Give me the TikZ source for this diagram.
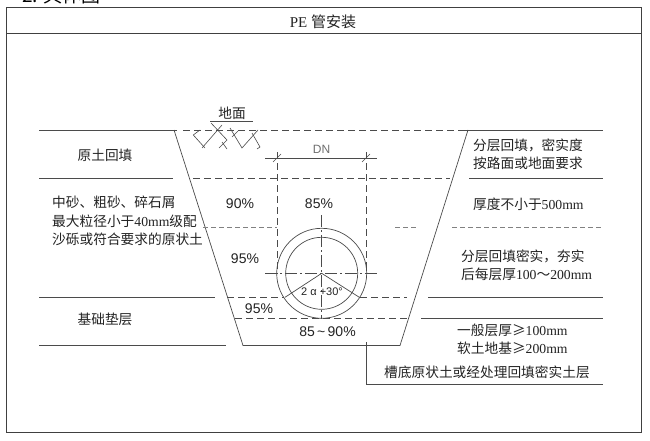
\documentclass[tikz,border=0pt]{standalone}
\usepackage{fontspec}
\setmainfont{Liberation Serif}
\newfontfamily\cjk{Noto Sans CJK SC}
\newfontfamily\pct{Liberation Sans}
\definecolor{scanline}{RGB}{75,75,75}
\definecolor{scantext}{RGB}{35,35,35}
\tikzset{
  solidline/.style={draw=scanline, line width=0.7pt},
  dashline/.style={draw=scanline, line width=0.7pt, dash pattern=on 7pt off 4pt},
  paleline/.style={draw=scanline!70, line width=0.6pt, dash pattern=on 5pt off 3pt},
  axisline/.style={draw=scanline, line width=0.5pt, dash pattern=on 12pt off 3pt on 2pt off 3pt},
  framebox/.style={draw=black!75, line width=1pt},
  soiltick/.style={draw=scanline, line width=0.6pt},
  notetext/.style={inner sep=0pt, text=scantext, align=left, anchor=west, font=\fontsize{13.7}{18.3}\selectfont\cjk},
  midtext/.style={inner sep=0pt, text=scantext, align=center, font=\fontsize{13.7}{18.3}\selectfont\cjk},
  ratiotext/.style={inner sep=0pt, text=scantext, font=\fontsize{14}{16}\selectfont\pct},
}
\begin{document}
\begin{tikzpicture}[x=1pt, y=-1pt]
	\clip (0,0) rectangle (650,441);
	\fill[white] (0,0) rectangle (650,441);
	\node[inner sep=0pt, anchor=west, text=black, font=\fontsize{19}{20}\selectfont\cjk] (heading) at (22,-5) {2. 具体图};

	\draw[framebox] (6,8) rectangle (641,432);
	\draw[framebox] (6,34) -- (641,34);
	\node[midtext, font=\fontsize{15}{18}\selectfont\cjk] (title) at (323,22) {\rmfamily PE \cjk 管安装};

	\coordinate (trenchTL) at (174,130);
	\coordinate (trenchTR) at (468,130);
	\coordinate (trenchBL) at (243,345.5);
	\coordinate (trenchBR) at (400,345.5);
	\coordinate (pipe) at (321.7,273.3);
	\draw[solidline] (trenchTL) -- (trenchBL) -- (trenchBR) -- (trenchTR);

	\draw[solidline] (39,130) -- (177,130);
	\draw[dashline] (183,130) -- (465,130);
	\draw[solidline] (465,130) -- (603,130);
	\draw[solidline] (39,178.5) -- (173,178.5);
	\draw[dashline] (193,178.5) -- (450,178.5);
	\draw[solidline] (469,178.5) -- (603,178.5);
	\draw[paleline] (203,227) -- (277,227);
	\draw[paleline] (395,227) -- (417,227);
	\draw[paleline] (452,227) -- (603,227);
	\draw[solidline] (39,297.3) -- (215,297.3);
	\draw[dashline] (227,297.3) -- (284,297.3);
	\draw[dashline] (360,297.3) -- (407,297.3);
	\draw[solidline] (428,297.3) -- (603,297.3);
	\draw[dashline] (235,318.7) -- (408,318.7);
	\draw[solidline] (421,318.7) -- (603,318.7);
	\draw[solidline] (39,345.5) -- (226,345.5);
	\draw[solidline] (366,342) -- (366,384) -- (603,384);

	% ground symbol
	\node[midtext] (ground) at (232,113) {地面};
	\draw[soiltick] (210,121.7) -- (252.7,121.7);
	\draw[soiltick] (222,125) -- (202,148);
	\draw[soiltick] (211,123) -- (227,140) -- (219,148);
	\draw[soiltick] (200,130) -- (193.3,135) -- (205,148);
	\draw[soiltick] (222,142) -- (227,149);
	\draw[soiltick] (230,128) -- (242,148) -- (258,130);
	\draw[soiltick] (232,137) -- (238,131);
	\draw[soiltick] (252,133) -- (260,147) -- (257,149);

	% width of the pipe
	\draw[dashline] (277,152) -- (277,273.3);
	\draw[dashline] (366,152) -- (366,273.3);
	\draw[soiltick] (265,158) -- (377,158);
	\draw[soiltick] (273,162) -- (281,154);
	\draw[soiltick] (362,162) -- (370,154);
	\node[inner sep=0pt, text=scanline!80, font=\fontsize{12}{14}\selectfont\pct] (width) at (321.5,149) {DN};

	% pipe
	\draw[solidline] (pipe) circle (45);
	\draw[solidline] (pipe) circle (36);
	\draw[axisline] (265,273.3) -- (377,273.3);
	\draw[axisline] (321.7,215) -- (321.7,318.7);
	\draw[solidline] (285,297.3) -- (pipe) -- (359.3,297.3);
	\node[ratiotext, font=\fontsize{11}{13}\selectfont\pct] (angle) at (322,291.5) {2 α +30°};

	\node[ratiotext] (r90) at (240,204) {90\%};
	\node[ratiotext] (r85) at (319,204) {85\%};
	\node[ratiotext] (r95a) at (245,259) {95\%};
	\node[ratiotext] (r95b) at (259,309) {95\%};
	\node[ratiotext] (r8590) at (327.5,332) {85\,\textasciitilde\,90\%};

	\node[midtext] (backfill) at (105,155) {原土回填};
	\node[notetext] (sand) at (52,221) {中砂、粗砂、碎石屑\\最大粒径小于\rmfamily 40mm\cjk 级配\\沙砾或符合要求的原状土};
	\node[midtext] (base) at (105,319) {基础垫层};

	\node[notetext] (layerA) at (473,154) {分层回填，密实度\\按路面或地面要求};
	\node[notetext] (layerB) at (473,204) {厚度不小于\rmfamily 500mm};
	\node[notetext] (layerC) at (461,265.5) {分层回填密实，夯实\\后每层厚\rmfamily 100\cjk ～\rmfamily 200mm};
	\node[notetext] (layerD) at (457,339.5) {一般层厚≥\rmfamily 100mm\\\cjk 软土地基≥\rmfamily 200mm};
	\node[notetext] (layerE) at (384,372.6) {槽底原状土或经处理回填密实土层};
\end{tikzpicture}
\end{document}
